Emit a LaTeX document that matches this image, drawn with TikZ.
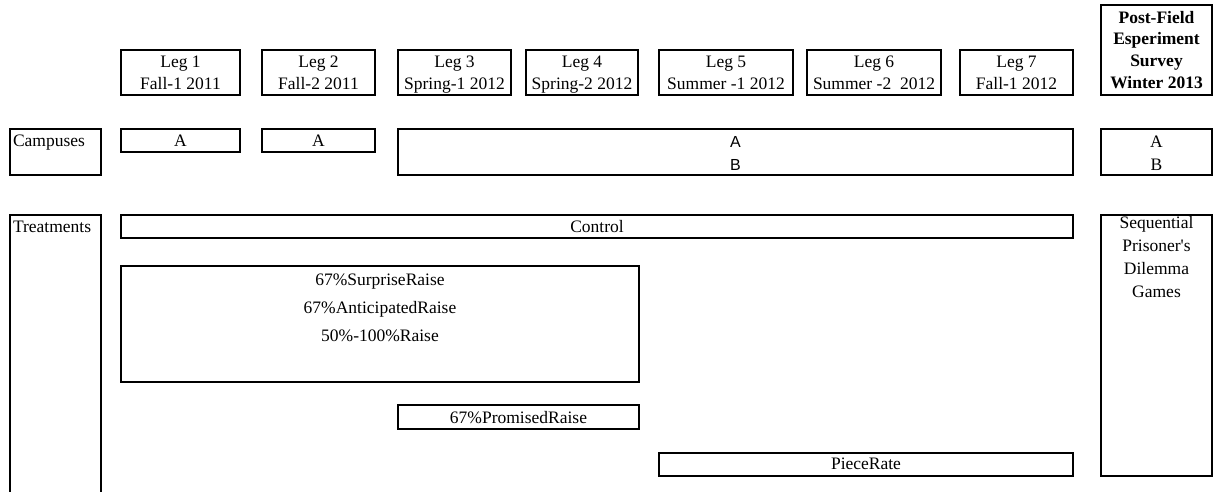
\documentclass[tikz,border=0pt]{standalone}
\usepackage{fontspec}
\setmainfont{Liberation Serif}
\newfontfamily\arialf{Liberation Sans}
\newfontfamily\plainserif{Liberation Serif}
\begin{document}
\begin{tikzpicture}[x=1pt,y=-1pt,
  box/.style={draw, line width=1.3pt, inner sep=0pt, outer sep=0pt, anchor=north west},
  txt/.style={inner sep=0pt, outer sep=0pt, anchor=base, font=\fontsize{17.5}{21}\selectfont},
  txtl/.style={txt, anchor=base west},
  bold/.style={txt, font=\fontsize{17.5}{21}\selectfont\bfseries},
  sans/.style={txt, font=\fontsize{16}{20}\selectfont\arialf}]
\clip (0,0) rectangle (1213,491);
% legs
\node[box, minimum width=119pt, minimum height=45pt] (leg1) at (121,50) {};
\node[box, minimum width=113pt, minimum height=45pt] (leg2) at (262,50) {};
\node[box, minimum width=113pt, minimum height=45pt] (leg3) at (398,50) {};
\node[box, minimum width=112pt, minimum height=45pt] (leg4) at (526,50) {};
\node[box, minimum width=134pt, minimum height=45pt] (leg5) at (659,50) {};
\node[box, minimum width=134pt, minimum height=45pt] (leg6) at (807,50) {};
\node[box, minimum width=113pt, minimum height=45pt] (leg7) at (960,50) {};
\node[txt] (l1a) at (180.5,67) {Leg 1};
\node[txt] (l1b) at (180.5,89) {Fall-1 2011};
\node[txt] (l2a) at (318.5,67) {Leg 2};
\node[txt] (l2b) at (318.5,89) {Fall-2 2011};
\node[txt] (l3a) at (454.5,67) {Leg 3};
\node[txt] (l3b) at (454.5,89) {Spring-1 2012};
\node[txt] (l4a) at (582,67) {Leg 4};
\node[txt] (l4b) at (582,89) {Spring-2 2012};
\node[txt] (l5a) at (726,67) {Leg 5};
\node[txt] (l5b) at (726,89) {Summer -1 2012};
\node[txt] (l6a) at (874,67) {Leg 6};
\node[txt] (l6b) at (874,89) {Summer -2\ \ 2012};
\node[txt] (l7a) at (1016.5,67) {Leg 7};
\node[txt] (l7b) at (1016.5,89) {Fall-1 2012};
\node[box, minimum width=111pt, minimum height=90pt] (post) at (1101,5) {};
\node[bold] (p1) at (1156.5,23) {Post-Field};
\node[bold] (p2) at (1156.5,44) {Esperiment};
\node[bold] (p3) at (1156.5,66) {Survey};
\node[bold] (p4) at (1156.5,88) {Winter 2013};
% campuses
\node[box, minimum width=91pt, minimum height=46pt] (campbox) at (10,129) {};
\node[txtl] (camplbl) at (13,146) {Campuses};
\node[box, minimum width=119pt, minimum height=23pt] (ca1) at (121,129) {};
\node[txt] (ca1t) at (180.5,146) {A};
\node[box, minimum width=113pt, minimum height=23pt] (ca2) at (262,129) {};
\node[txt] (ca2t) at (318.5,146) {A};
\node[box, minimum width=675pt, minimum height=46pt] (cab) at (398,129) {};
\node[sans] (cabA) at (735.5,147) {A};
\node[sans] (cabB) at (735.5,170) {B};
\node[box, minimum width=111pt, minimum height=46pt] (cpost) at (1101,129) {};
\node[txt] (cpostA) at (1156.5,147) {A};
\node[txt] (cpostB) at (1156.5,170) {B};
% treatments
\node[box, minimum width=91pt, minimum height=300pt] (treatbox) at (10,215) {};
\node[txtl] (treatlbl) at (13,232) {Treatments};
\node[box, minimum width=952pt, minimum height=23pt] (control) at (121,215) {};
\node[txt] (controlt) at (597,232) {Control};
\node[box, minimum width=518pt, minimum height=116pt] (raise) at (121,266) {};
\node[txt] (r1) at (380,285) {67\%SurpriseRaise};
\node[txt] (r2) at (380,313) {67\%AnticipatedRaise};
\node[txt] (r3) at (380,341) {50\%-100\%Raise};
\node[box, minimum width=241pt, minimum height=24pt] (promised) at (398,405) {};
\node[txt] (promisedt) at (518.5,423) {67\%PromisedRaise};
\node[box, minimum width=414pt, minimum height=23pt] (piece) at (659,453) {};
\node[txt] (piecet) at (866,469.5) {PieceRate};
\node[box, minimum width=111pt, minimum height=261pt] (seqbox) at (1101,215) {};
\node[txt] (s1) at (1156.5,228) {Sequential};
\node[txt] (s2) at (1156.5,251) {\plainserif Prisoner's};
\node[txt] (s3) at (1156.5,274) {Dilemma};
\node[txt] (s4) at (1156.5,297) {Games};
\end{tikzpicture}
\end{document}
